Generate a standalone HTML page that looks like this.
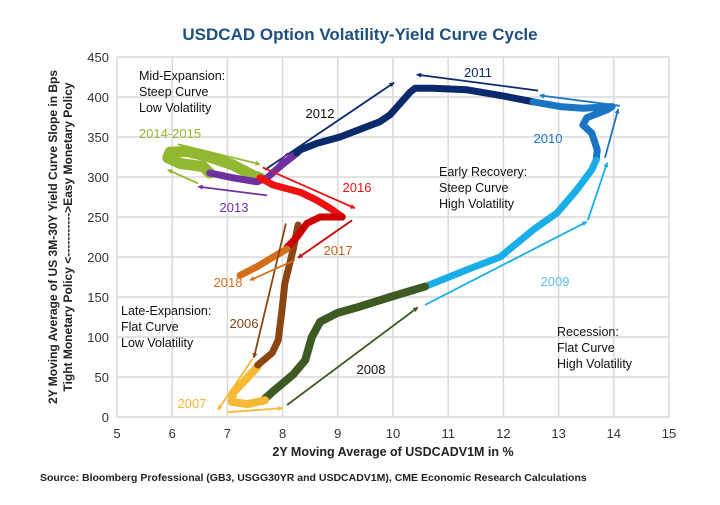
<!DOCTYPE html>
<html><head><meta charset="utf-8"><style>
body{margin:0;background:#fff;font-family:"Liberation Sans",sans-serif}
svg text{font-family:"Liberation Sans",sans-serif}
</style></head><body>
<svg id="c" width="720" height="500" viewBox="0 0 720 500">
<defs>
<marker id="ah" viewBox="0 0 10 10" refX="9" refY="5" markerWidth="5" markerHeight="5" orient="auto-start-reverse" markerUnits="userSpaceOnUse"><path d="M0,0L10,5L0,10z" fill="context-stroke"/></marker>
</defs>
<text x="360" y="40" text-anchor="middle" font-size="17" font-weight="bold" fill="#1d4f7f">USDCAD Option Volatility-Yield Curve Cycle</text>
<g id="grid"></g>
<g id="series"></g>
<g id="arrows"></g>
<g id="labels"></g>
<text transform="translate(57,237) rotate(-90)" text-anchor="middle" font-size="12" font-weight="bold" fill="#222">2Y Moving Average of US 3M-30Y Yield Curve Slope in Bps</text>
<text transform="translate(72,237) rotate(-90)" text-anchor="middle" font-size="12" font-weight="bold" fill="#222">Tight Monetary Policy &lt;-----------&gt;Easy Monetary Policy</text>
<text x="393" y="456" text-anchor="middle" font-size="12.5" font-weight="bold" fill="#222">2Y Moving Average of USDCADV1M in %</text>
<text x="40" y="481" font-size="10.5" font-weight="bold" fill="#222">Source: Bloomberg Professional (GB3, USGG30YR and USDCADV1M), CME Economic Research Calculations</text>
</svg>
<script>
const xTicks=[5,6,7,8,9,10,11,12,13,14,15];
const yTicks=[0,50,100,150,200,250,300,350,400,450];
const s2006=[[8.28,240],[8.19,209],[8.04,167],[7.99,134],[7.92,96],[7.81,80],[7.55,65]];
const s2007=[[7.55,63],[7.32,46],[7.1,30],[7.08,19],[7.36,16],[7.68,21]];
const s2008=[[7.68,23],[7.86,34],[8.19,53],[8.41,71],[8.53,100],[8.68,119],[8.99,130],[9.4,138],[9.95,150],[10.58,163]];
const s2009=[[10.58,163],[11.34,184],[11.94,200],[12.54,234],[12.97,255],[13.33,284],[13.6,309],[13.68,321]];
const s2010=[[13.68,321],[13.7,334],[13.6,355],[13.44,365],[13.51,374],[13.88,384],[13.97,388],[13.44,386],[13.03,388],[12.54,394]];
const s2011=[[12.54,394],[11.94,402],[11.34,409],[10.72,411],[10.4,411],[10.31,406],[10.13,392]];
const s2012=[[10.13,392],[9.95,378],[9.76,369],[9.53,363],[9.04,350],[8.62,342],[8.32,334],[8.26,330]];
const s2013=[[8.26,330],[7.95,313],[7.72,299],[7.54,294],[7.1,299],[6.68,305]];
const s2014=[[6.68,305],[6.56,313],[6.14,317],[5.92,324],[5.96,331],[6.27,332],[6.68,325],[7.1,315],[7.46,302],[7.59,299]];
const s2016=[[7.59,299],[7.83,290],[8.32,281],[8.62,271],[8.86,261],[9.08,250]];
const s2017=[[9.08,250],[8.91,250],[8.68,250],[8.44,242],[8.26,225],[8.08,212]];
const s2018=[[8.08,210],[7.83,200],[7.54,188],[7.23,177]];
const X=v=>117+55.2*(v-5), Y=v=>417-0.8*v;
const NS='http://www.w3.org/2000/svg';
function mk(t,p,a){const e=document.createElementNS(NS,t);for(const k in a)e.setAttribute(k,a[k]);p.appendChild(e);return e;}
const g=document.getElementById('grid');
xTicks.forEach(v=>{const l=mk('line',g,{x1:X(v),x2:X(v),y1:Y(0),y2:Y(450),stroke:'#d9d9d9','stroke-width':1.5});


const t=mk('text',g,{x:X(v),y:Y(0)+21,'text-anchor':'middle','font-size':13,fill:'#333'});t.textContent=v;

});
yTicks.forEach(v=>{const l=mk('line',g,{x1:X(5),x2:X(15),y1:Y(v),y2:Y(v),stroke:'#d9d9d9','stroke-width':1.5});


const t=mk('text',g,{x:X(5)-8,y:Y(v)+5,'text-anchor':'end','font-size':13,fill:'#333'});t.textContent=v;

});
const sg=document.getElementById('series');
[[s2014,'#92b832',11,'series-2014-2015'],[s2013,'#7030a0',7,'series-2013'],[s2012,'#0b2a6b',7,'series-2012'],[s2011,'#0b2a6b',7,'series-2011'],[s2010,'#1a75c4',7,'series-2010'],[s2009,'#19aee8',7,'series-2009'],[s2008,'#3d5a23',8,'series-2008'],[s2007,'#f6b935',8,'series-2007'],[s2006,'#8a4510',7,'series-2006'],[s2016,'#ee1111',7,'series-2016'],[s2017,'#cc0000',7,'series-2017'],[s2018,'#d36e1a',7,'series-2018']].forEach(([d,c,w,n])=>{
const p=mk('polyline',sg,{points:d.map(q=>X(q[0])+','+Y(q[1])).join(' '),fill:'none',stroke:c,'stroke-width':w,'stroke-linecap':'round','stroke-linejoin':'round'});

});
const arrows=[[[7.68,309],[10.02,418],'#0b2a6b'],[[12.63,408],[10.43,428],'#0b2a6b'],[[14.11,389],[12.66,402],'#1a75c4'],[[13.84,324],[14.08,385],'#1a75c4'],[[10.58,140],[13.51,244],'#19aee8'],[[13.53,246],[13.88,318],'#19aee8'],[[8.08,15],[10.45,137],'#3d5a23'],[[7.0,6],[8.0,11],'#f6b935'],[[7.46,73],[6.83,9],'#f6b935'],[[8.06,242],[7.48,74],'#8a4510'],[[8.22,196],[7.41,171],'#d36e1a'],[[9.26,246],[8.28,199],'#cc0000'],[[7.64,312],[9.31,261],'#ee1111'],[[7.72,277],[6.47,288],'#7030a0'],[[8.09,330],[7.75,302],'#7030a0'],[[6.1,341],[7.59,316],'#92b832'],[[6.47,292],[5.92,309],'#92b832']];
const ag=document.getElementById('arrows');
arrows.forEach(([a,b,c])=>{const l=mk('line',ag,{x1:X(a[0]),y1:Y(a[1]),x2:X(b[0]),y2:Y(b[1]),stroke:c,'stroke-width':1.8,'marker-end':'url(#ah)'});

});
const labs=[['2011',478,77,'#0b2a6b'],['2012',320,118,'#111'],['2010',548,143,'#1a75c4'],['2014-2015',170,138,'#92b832'],['2016',357,192,'#ee1111'],['2013',234,212,'#7030a0'],['2017',338,255,'#c0601a'],['2018',228,287,'#d36e1a'],['2009',555,286,'#5cc0ec'],['2006',244,328,'#8a4510'],['2008',371,374,'#111'],['2007',192,408,'#f6b935']];
const lg=document.getElementById('labels');
labs.forEach(([t,x,y,c])=>{const e=mk('text',lg,{x:x,y:y,'text-anchor':'middle','font-size':13,fill:c});e.textContent=t;

});
const notes=[[['Mid-Expansion:','Steep Curve','Low Volatility'],139,80],[['Early Recovery:','Steep Curve','High Volatility'],439,176],[['Late-Expansion:','Flat Curve','Low Volatility'],121,315],[['Recession:','Flat Curve','High Volatility'],557,336]];
notes.forEach(([ls,x,y])=>{ls.forEach((t,i)=>{const e=mk('text',lg,{x:x,y:y+i*16,'font-size':12.5,fill:'#111'});e.textContent=t;

});});
</script>
</body></html>
